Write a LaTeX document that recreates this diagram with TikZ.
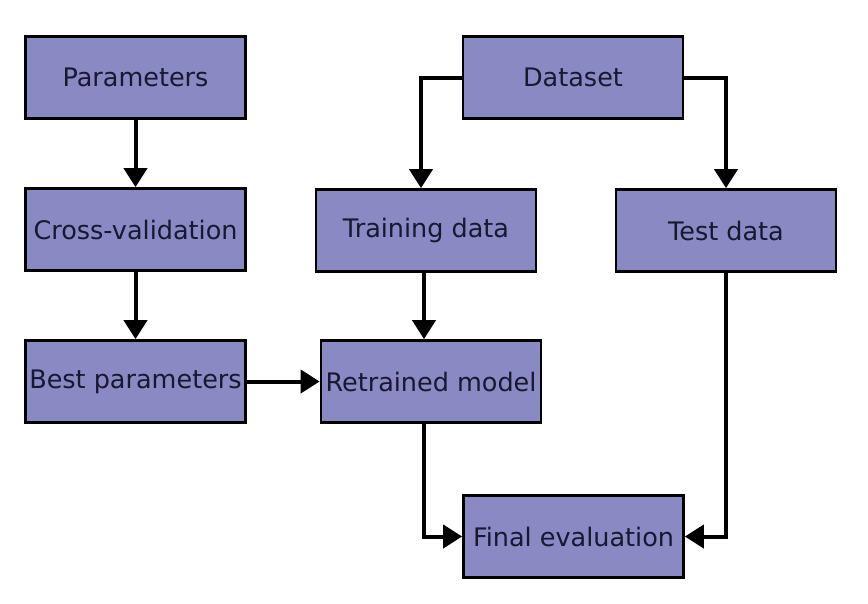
\documentclass[tikz,border=0pt]{standalone}
\usepackage{fontspec}
\setmainfont{DejaVu Sans}
\usetikzlibrary{arrows.meta}
\definecolor{boxfill}{RGB}{137,137,196}
\definecolor{boxtext}{RGB}{24,24,48}
\tikzset{
  box/.style={draw=black, line width=2.7pt, fill=boxfill, text=boxtext,
    minimum width=220pt, minimum height=82pt, inner sep=0pt,
    font=\fontsize{25.5}{30}\selectfont},
  conn/.style={line width=4pt, -{Triangle[length=19pt,width=23pt]}}
}
\begin{document}
\begin{tikzpicture}[x=1pt,y=-1pt]
\useasboundingbox (0,0) rectangle (868,603);
\node[box] (params) at (135.5,77.5) {Parameters};
\node[box] (cv) at (135.5,229.5) {Cross-validation};
\node[box] (best) at (135.5,381.5) {Best parameters};
\node[box] (dataset) at (573,77.5) {Dataset};
\node[box] (train) at (426,230.5) {Training data};
\node[box] (test) at (726,230.5) {Test data};
\node[box] (retrained) at (431,381.5) {Retrained model};
\node[box] (final) at (573.5,536.5) {Final evaluation};

\draw[conn] (params) -- (cv);
\draw[conn] (cv) -- (best);
\draw[conn] (best) -- (retrained);
\draw[conn] (dataset.west) -| ([xshift=-5pt]train.north);
\draw[conn] (dataset.east) -| (test.north);
\draw[conn] ([xshift=-2pt]train.south) -- ([xshift=-7pt]retrained.north);
\draw[conn] ([xshift=-7pt]retrained.south) |- (final.west);
\draw[conn] (test.south) |- (final.east);
\end{tikzpicture}
\end{document}
